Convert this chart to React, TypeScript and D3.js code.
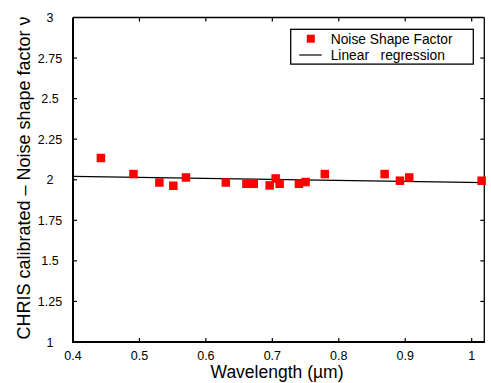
import React from "react";
import * as d3 from "d3";

const wavelengths = [0.442, 0.491, 0.53, 0.551, 0.57, 0.63, 0.661, 0.672, 0.696, 0.705, 0.711, 0.74, 0.75, 0.779, 0.869, 0.892, 0.906, 1.015];
const shapeFactor = [2.134, 2.035, 1.983, 1.963, 2.014, 1.983, 1.975, 1.975, 1.965, 2.008, 1.975, 1.975, 1.986, 2.035, 2.035, 1.994, 2.014, 1.994];
const regressionX = [0.4, 1.019];
const regressionY = [2.021, 1.982];
const xTicks = [0.4, 0.5, 0.6, 0.7, 0.8, 0.9, 1];
const yTicks = [1, 1.25, 1.5, 1.75, 2, 2.25, 2.5, 2.75, 3];
const xTickLabels = ["0.4", "0.5", "0.6", "0.7", "0.8", "0.9", "1"];
const yTickLabels = ["1", "1.25", "1.5", "1.75", "2", "2.25", "2.5", "2.75", "3"];

const W = 491;
const H = 383;
const left = 73;
const right = 484.3;
const top = 17.5;
const bottom = 342;
const FONT = "'Liberation Sans', Arial, sans-serif";

export default function App() {
  const x = d3.scaleLinear().domain([0.4, 1.019]).range([left, right]);
  const y = d3.scaleLinear().domain([1, 3]).range([bottom, top]);
  const line = d3
    .line<number>()
    .x((d) => x(d))
    .y((_, i) => y(regressionY[i]));
  const ms = 8.5;
  const tk = 4;
  return (
    <svg
      width={W}
      height={H}
      style={{ position: "absolute", left: 0, top: 0, background: "#fff" }}
      fontFamily={FONT}
    >
      <rect x={0} y={0} width={W} height={H} fill="#fff" />
      {/* ticks */}
      {xTicks.slice(1).map((t, i) => (
        <g key={"xt" + i}>
          <line x1={x(t)} x2={x(t)} y1={bottom} y2={bottom - tk} stroke="#000" strokeWidth={1.2} />
          <line x1={x(t)} x2={x(t)} y1={top} y2={top + tk} stroke="#000" strokeWidth={1.2} />
        </g>
      ))}
      {yTicks.slice(1, -1).map((t, i) => (
        <g key={"yt" + i}>
          <line x1={left} x2={left + tk} y1={y(t)} y2={y(t)} stroke="#000" strokeWidth={1.2} />
          <line x1={right} x2={right - tk} y1={y(t)} y2={y(t)} stroke="#000" strokeWidth={1.2} />
        </g>
      ))}
      {/* frame */}
      <line x1={left} x2={right} y1={top} y2={top} stroke="#000" strokeWidth={1.3} />
      <line x1={right} x2={right} y1={top} y2={bottom} stroke="#000" strokeWidth={1.3} />
      <line x1={left} x2={left} y1={top} y2={bottom} stroke="#000" strokeWidth={2} />
      <line x1={left - 1} x2={right + 0.7} y1={bottom} y2={bottom} stroke="#000" strokeWidth={2.2} />
      {/* tick labels */}
      {xTicks.map((t, i) => (
        <text key={"xl" + i} x={x(t)} y={360} textAnchor="middle" fontSize={12.5} fill="#000">
          {xTickLabels[i]}
        </text>
      ))}
      {yTicks.map((t, i) => (
        <text key={"yl" + i} x={50} y={y(t) + 4.5} textAnchor="middle" fontSize={12.5} fill="#000">
          {yTickLabels[i]}
        </text>
      ))}
      {/* regression */}
      <path d={line(regressionX) || ""} fill="none" stroke="#000" strokeWidth={1.2} />
      {/* points */}
      {wavelengths.map((w, i) => (
        <rect
          key={"p" + i}
          x={x(w) - ms / 2}
          y={y(shapeFactor[i]) - ms / 2}
          width={ms}
          height={ms}
          fill="#ff0000"
        />
      ))}
      {/* legend */}
      <rect x={290.7} y={29.3} width={182.6} height={34.8} fill="#fff" stroke="#000" strokeWidth={1.3} />
      <rect x={310.8 - 4} y={38.7 - 4} width={8} height={8} fill="#ff0000" />
      <line x1={299.3} x2={321.7} y1={55} y2={55} stroke="#000" strokeWidth={1.2} />
      <text x={330.7} y={44} fontSize={13.8} fill="#000">Noise Shape Factor</text>
      <text x={330.7} y={60} fontSize={13.8} fill="#000" style={{ whiteSpace: "pre" }} xmlSpace="preserve">
        {"Linear   regression"}
      </text>
      {/* axis titles */}
      <text x={277} y={378} textAnchor="middle" fontSize={17.5} fill="#000">
        Wavelength (µm)
      </text>
      <text
        transform={`translate(30,178) rotate(-90)`}
        textAnchor="middle"
        fontSize={18}
        fill="#000"
      >
        CHRIS calibrated – Noise shape factor ν
      </text>
    </svg>
  );
}
